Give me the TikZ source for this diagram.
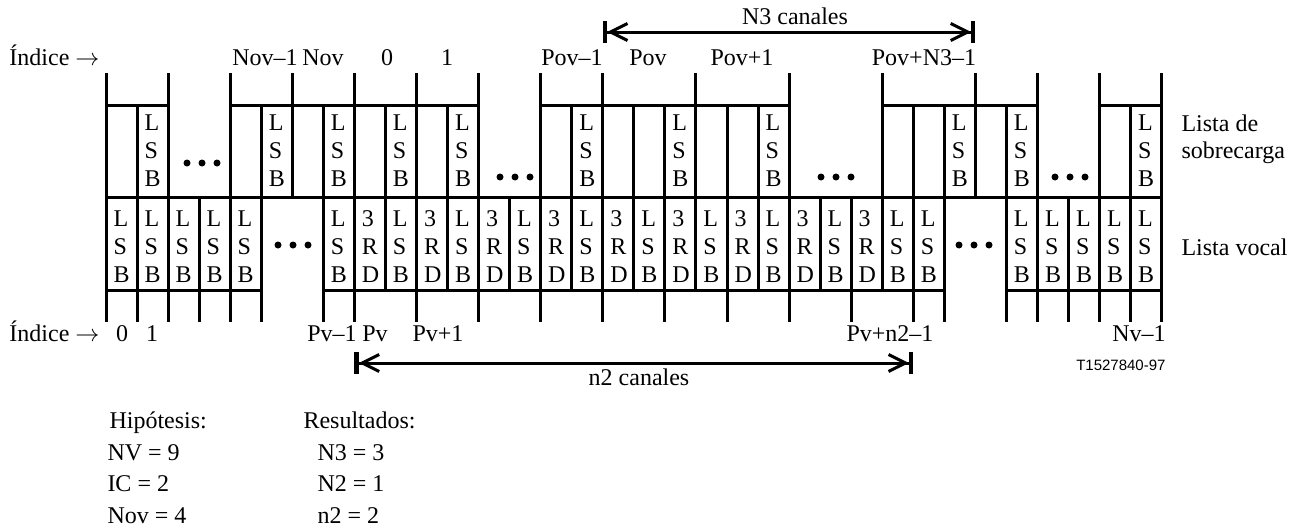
\documentclass[tikz,border=0pt]{standalone}
\usepackage{fontspec}
\setmainfont{Liberation Serif}
\newfontfamily\codfont{Liberation Sans}
\usetikzlibrary{arrows.meta}
\newcommand\colx[1]{106+31.05*(#1)}
\begin{document}
\begin{tikzpicture}
  [x=0.5pt,y=-0.5pt,line width=1.5pt,
   every node/.style={inner sep=0pt,font=\fontsize{12}{14}\selectfont},
   celda/.style={anchor=west,align=left},
   indice/.style={anchor=base},
   cota/.style={{Bar[width=11pt,line width=2.2pt]Straight Barb[length=8.5pt,width=8.5pt]}-{Straight Barb[length=8.5pt,width=8.5pt]Bar[width=11pt,line width=2.2pt]}}]
  \useasboundingbox (0,0) rectangle (1298,530);
  % lineas horizontales
  \foreach \a/\b in {0/2,4/12,14/22,25/30,32/34}
    \draw ({\colx{\a}},105) -- ({\colx{\b}},105);
  \draw ({\colx{0}},197) -- ({\colx{34}},197);
  \foreach \a/\b in {0/5,7/27,29/34}
    \draw ({\colx{\a}},290) -- ({\colx{\b}},290);
  % lista de sobrecarga
  \foreach \i in {0,2,4,6,8,10,12,14,16,19,22,25,28,30,32,34}
    \draw ({\colx{\i}},73) -- ({\colx{\i}},197);
  \foreach \i in {1,5,7,9,11,15,17,18,20,21,26,27,29,33}
    \draw ({\colx{\i}},105) -- ({\colx{\i}},197);
  \foreach \i in {1,5,7,9,11,15,18,21,27,29,33}
    \node[celda] (sob\i) at ({\colx{\i}+6},151) {L\\S\\B};
  % lista vocal
  \foreach \i in {0,1,2,3,4,5,7,8,10,12,14,16,18,20,22,24,26,27,29,30,31,32,33,34}
    \draw ({\colx{\i}},197) -- ({\colx{\i}},322);
  \foreach \i in {9,11,...,25}
    \draw ({\colx{\i}},197) -- ({\colx{\i}},290);
  \foreach \i in {0,1,2,3,4,7,9,11,13,15,17,19,21,23,25,26,29,30,31,32,33}
    \node[celda] (voz\i) at ({\colx{\i}+6},247) {L\\S\\B};
  \foreach \i in {8,10,...,24}
    \node[celda] (voz\i) at ({\colx{\i}+6},247) {3\\R\\D};
  % puntos
  \foreach \x/\y in {202/163,515/177,836/177,1070/177,293/245,974/245}
    \foreach \d in {-15,0,15}
      \fill (\x+\d,\y) circle (3.5);
  % indices
  \node[anchor=base west] (indsup) at (8,65) {Índice $\rightarrow$};
  \node[anchor=base west] (indinf) at (8,341) {Índice $\rightarrow$};
  \foreach \t/\x [count=\k] in {Nov–1/265,Nov/323,0/387,1/447,Pov–1/572,Pov/648,Pov+1/742,Pov+N3–1/924}
    \node[indice] (isup\k) at (\x,65) {\t};
  \foreach \t/\x [count=\k] in {0/122,1/152,Pv–1/332,Pv/375,Pv+1/438,Pv+n2–1/890,Nv–1/1139}
    \node[indice] (iinf\k) at (\x,341) {\t};
  % cotas
  \coordinate (n3izq) at ({\colx{16}},32);
  \coordinate (n3der) at ({\colx{28}},32);
  \draw[cota] (n3izq) -- (n3der);
  \node[indice] (n3txt) at (795,25) {N3 canales};
  \coordinate (n2izq) at ({\colx{8}},363);
  \coordinate (n2der) at ({\colx{26}},363);
  \draw[cota] (n2izq) -- (n2der);
  \node[indice] (n2txt) at (639,385) {n2 canales};
  % listas
  \node[anchor=base west,align=left] (lsob) at (1180,158) {Lista de\\[-0.5pt]sobrecarga};
  \node[anchor=base west] (lvoc) at (1180,255) {Lista vocal};
  \node[anchor=base east,font=\codfont\fontsize{7.5}{9}\selectfont] (codigo) at (1167,370) {T1527840-97};
  % hipotesis y resultados
  \node[anchor=base west] (hip) at (108,428) {Hipótesis:};
  \node[anchor=base west] (hip1) at (106,460) {NV = 9};
  \node[anchor=base west] (hip2) at (106,491) {IC = 2};
  \node[anchor=base west] (hip3) at (106,523) {Nov = 4};
  \node[anchor=base west] (res) at (302,428) {Resultados:};
  \node[anchor=base west] (res1) at (316,460) {N3 = 3};
  \node[anchor=base west] (res2) at (316,491) {N2 = 1};
  \node[anchor=base west] (res3) at (316,523) {n2 = 2};
\end{tikzpicture}
\end{document}
